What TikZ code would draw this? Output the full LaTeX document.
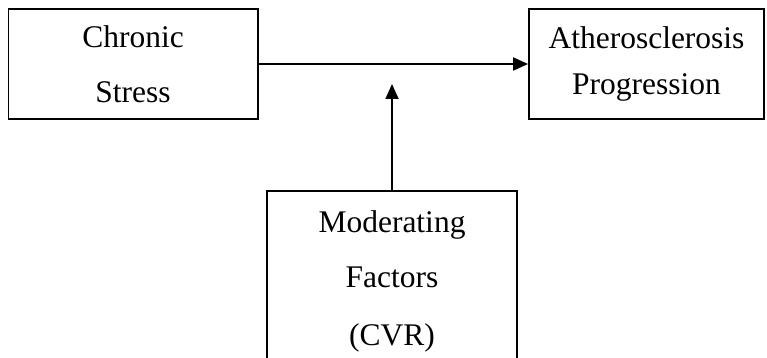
\documentclass[tikz,border=0pt]{standalone}
\usepackage{fontspec}
\setmainfont{Liberation Serif}
\usetikzlibrary{arrows.meta}
\begin{document}
\begin{tikzpicture}[x=1pt,y=-1pt,
  box/.style={draw=black, line width=1.8pt, rectangle, inner sep=0pt},
  txt/.style={anchor=base, inner sep=0pt, font=\fontsize{31.5}{37}\selectfont},
  conn/.style={line width=1.8pt, -{Triangle[length=15pt,width=13pt]}}]
\useasboundingbox (0,0) rectangle (767,358);
\clip (0,0) rectangle (767,358);
\node[box, minimum width=249.5pt, minimum height=110pt] (cs) at (133.25,64) {};
\node[box, minimum width=235pt, minimum height=110pt] (ap) at (646.5,64) {};
\node[box, minimum width=250pt, minimum height=180pt] (mf) at (392,281) {};
\node[txt] (t1) at (133,48) {Chronic};
\node[txt] (t2) at (133,103) {Stress};
\node[txt] (t3) at (646.5,48.5) {Atherosclerosis};
\node[txt] (t4) at (646.5,95) {Progression};
\node[txt] (t5) at (392,232) {Moderating};
\node[txt] (t6) at (392,287) {Factors};
\node[txt] (t7) at (392,345) {(CVR)};
\coordinate (tip) at (392,84);
\draw[conn] (cs.east) -- (ap.west);
\draw[conn] (mf.north) -- (tip);
\end{tikzpicture}
\end{document}
